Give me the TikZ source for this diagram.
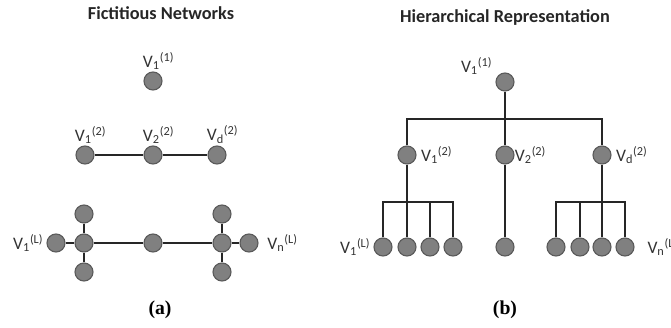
\documentclass[tikz,border=0pt]{standalone}
\usepackage{fontspec}
\setmainfont{Carlito}
\newfontfamily\capfont{Liberation Serif}
\usetikzlibrary{positioning}
\definecolor{nodegray}{HTML}{808080}
\definecolor{rimgray}{HTML}{5A5A5A}
\definecolor{labgray}{HTML}{333333}
\newcommand{\vlab}[2]{V\textsubscript{#1}\textsuperscript{(#2)}}

\begin{document}
\begin{tikzpicture}[x=0.025cm,y=-0.025cm,
vert/.style={circle,draw=rimgray,fill=nodegray,line width=0.8pt,minimum size=0.45cm,inner sep=0pt},
edge/.style={line width=1pt,black!85},
every label/.style={text=labgray,font=\fontsize{12.5}{14}\selectfont,inner sep=1pt},
title/.style={font=\fontsize{13}{15}\selectfont\bfseries,text=black!85},
caption/.style={font=\fontsize{14}{16}\selectfont\capfont\bfseries}]
\useasboundingbox (0,0) rectangle (671,328);

% (a) fictitious networks
\node [title] (ttla) at (161,13) {Fictitious Networks};
\node (top) [vert,label={[xshift=4pt]above:\vlab{1}{1}}] at (153,81) {};
\node (f1) [vert,label={[xshift=4pt]above:\vlab{1}{2}}] at (85,155) {};
\node (f2) [vert,label={[xshift=4pt]above:\vlab{2}{2}}] at (153,155) {};
\node (fd) [vert,label={[xshift=4pt]above:\vlab{d}{2}}] at (217,155) {};
\draw [edge] (f1) -- (f2) -- (fd);

\node (hubl) [vert] at (84,243) {};
\node (hubr) [vert] at (222,243) {};
\node (mid) [vert] at (153,243) {};
\node (leafl) [vert,label={[xshift=-1pt]left:\vlab{1}{L}}] at (56,243) {};
\node (leafr) [vert,label={[xshift=5pt]right:\vlab{n}{L}}] at (249,243) {};
\node (upl) [vert] at (84,214) {};
\node (dnl) [vert] at (84,272) {};
\node (upr) [vert] at (222,214) {};
\node (dnr) [vert] at (222,272) {};
\draw [edge] (leafl) -- (hubl) -- (mid) -- (hubr) -- (leafr);
\draw [edge] (upl) -- (hubl) -- (dnl);
\draw [edge] (upr) -- (hubr) -- (dnr);
\node [caption] (capa) at (160,310) {(a)};

% (b) hierarchical representation
\node [title] (ttlb) at (505,18) {Hierarchical Representation};
\node (root) [vert,label={[xshift=-3pt,yshift=-1pt]above left:\vlab{1}{1}}] at (505,82) {};
\node (h1) [vert,label={[xshift=2pt]right:\vlab{1}{2}}] at (407,155) {};
\node (h2) [vert,label={[xshift=-1pt]right:\vlab{2}{2}}] at (505,155) {};
\node (hd) [vert,label={[xshift=2pt]right:\vlab{d}{2}}] at (602,155) {};
\coordinate (barr) at (505,119);
\draw [edge] (root) -- (h2);
\draw [edge] (h1) |- (barr) -| (hd);

\foreach \i/\x in {1/383,2/407,3/430,4/453} {
  \node (k\i) [vert] at (\x,247) {};
}
\node [text=labgray,font=\fontsize{12.5}{14}\selectfont,inner sep=1pt,left=1pt of k1] (k1lab) {\vlab{1}{L}};
\coordinate (barl) at (407,202);
\draw [edge] (h1) -- (k2);
\draw [edge] (k1) |- (barl) -| (k4);
\draw [edge] (k3) -- (k3 |- barl);

\node (km) [vert] at (505,247) {};
\draw [edge] (h2) -- (km);

\foreach \i/\x in {1/556,2/580,3/602,4/625} {
  \node (q\i) [vert] at (\x,247) {};
}
\node [text=labgray,font=\fontsize{12.5}{14}\selectfont,inner sep=1pt,right=8pt of q4] (q4lab) {\vlab{n}{L}};
\coordinate (bard) at (602,202);
\draw [edge] (hd) -- (q3);
\draw [edge] (q1) |- (bard) -| (q4);
\draw [edge] (q2) -- (q2 |- bard);
\node [caption] (capb) at (505,310) {(b)};
\end{tikzpicture}
\end{document}
